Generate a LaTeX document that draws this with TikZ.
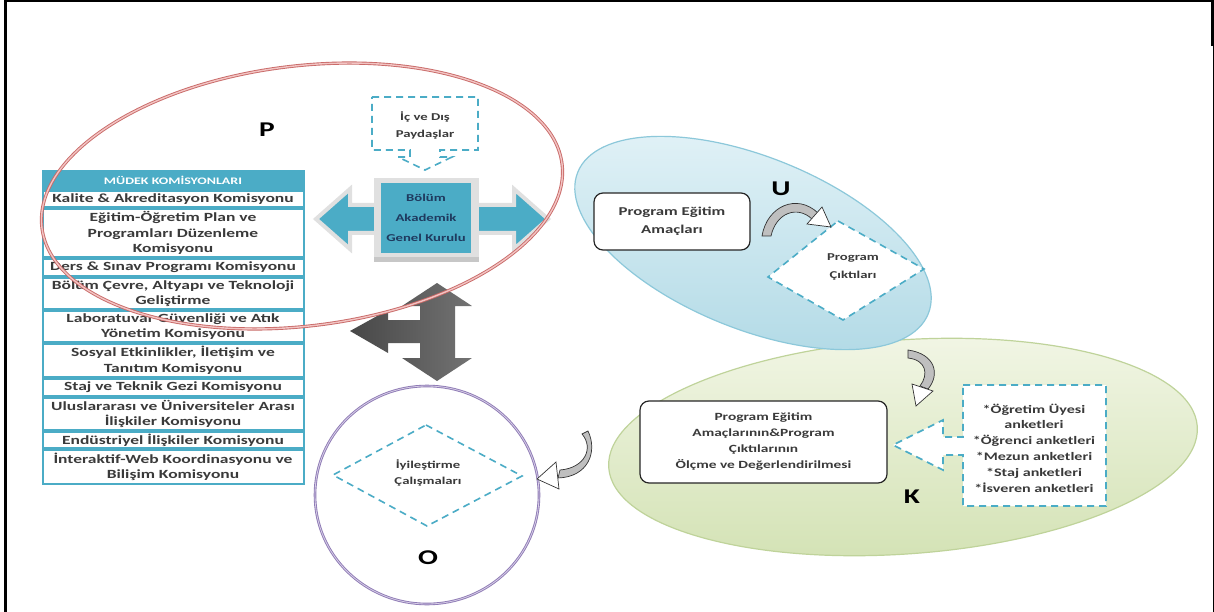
\documentclass[tikz,border=0pt]{standalone}
\usepackage{fontspec}
\newfontfamily\cf{Carlito}[FakeStretch=1.4]
\usetikzlibrary{positioning,calc}
\definecolor{teal1}{HTML}{4BACC6}
\definecolor{txtd}{HTML}{3A3A3A}
\definecolor{navy}{HTML}{1F3A5F}
\definecolor{redl}{HTML}{C0504D}
\definecolor{redp}{HTML}{F2C4C3}
\definecolor{bluef1}{HTML}{E2F2F7}
\definecolor{bluef2}{HTML}{B2DAE6}
\definecolor{bluebd}{HTML}{8CC8DA}
\definecolor{greenf1}{HTML}{F2F6E6}
\definecolor{greenf2}{HTML}{D3E2B4}
\definecolor{greenbd}{HTML}{BFD39A}
\definecolor{purp}{HTML}{8E7AB5}
\definecolor{purpl}{HTML}{D6CDE6}
\definecolor{bandg}{HTML}{BFBFBF}
\begin{document}
\begin{tikzpicture}[x=1pt,y=-1pt,
  row/.style={draw=teal1, line width=2pt, fill=white, minimum width=261pt,
    inner xsep=2pt, inner ysep=0pt, align=center, text=txtd,
    font=\cf\bfseries\fontsize{12.5}{15.5}\selectfont},
  dashbox/.style={draw=teal1, line width=1.6pt, dash pattern=on 7pt off 5pt},
  rbox/.style={draw=black!85, line width=1.2pt, rounded corners=9pt, fill=white},
  lbl/.style={font=\cf\bfseries\fontsize{21}{24}\selectfont, text=black},
  band/.style={draw=black!80, line width=0.7pt, fill=bandg},
  headtri/.style={draw=black!80, line width=0.7pt, fill=white}]
\useasboundingbox (0,0) rectangle (1214,612);
\fill[white] (0,0) rectangle (1214,612);
% frame
\draw[line width=2.5pt] (5.25,612) -- (5.25,0);
\draw[line width=2pt] (4,1) -- (1214,1);
\draw[line width=3pt] (1212.5,0) -- (1212.5,46);
\draw[line width=1.2pt] (1213.4,46) -- (1213.4,612);

% ellipses
\shade[top color=greenf1, bottom color=greenf2, rotate around={4:(903,447)}]
  (903,447) ellipse (295pt and 107pt);
\draw[greenbd, line width=1.2pt, rotate around={4:(903,447)}]
  (903,447) ellipse (295pt and 107pt);
\shade[top color=bluef1, bottom color=bluef2, rotate around={-22:(753,243)}]
  (753,243) ellipse (189pt and 86pt);
\draw[bluebd, line width=1.2pt, rotate around={-22:(753,243)}]
  (753,243) ellipse (189pt and 86pt);
\draw[purp, line width=2.6pt, fill=white] (427,495) ellipse (112pt and 109pt);
\draw[purpl, line width=0.8pt] (427,495) ellipse (112pt and 109pt);

% table
\node[row, fill=teal1, text=white, minimum height=18pt,
  font=\cf\bfseries\fontsize{10}{12}\selectfont, anchor=north] (hdr) at (173,170) {MÜDEK KOMİSYONLARI};
\node[row, minimum height=16pt, below=0pt of hdr] (r1) {Kalite \& Akreditasyon Komisyonu};
\node[row, minimum height=48pt, below=0pt of r1] (r2) {Eğitim-Öğretim Plan ve\\Programları Düzenleme\\Komisyonu};
\node[row, minimum height=17pt, below=0pt of r2] (r3) {Ders \& Sınav Programı Komisyonu};
\node[row, minimum height=31pt, below=0pt of r3] (r4) {Bölüm Çevre, Altyapı ve Teknoloji\\Geliştirme};
\node[row, minimum height=31pt, below=0pt of r4] (r5) {Laboratuvar Güvenliği ve Atık\\Yönetim Komisyonu};
\node[row, minimum height=33pt, below=0pt of r5] (r6) {Sosyal Etkinlikler, İletişim ve\\Tanıtım Komisyonu};
\node[row, minimum height=17pt, below=0pt of r6] (r7) {Staj ve Teknik Gezi Komisyonu};
\node[row, minimum height=32pt, below=0pt of r7] (r8) {Uluslararası ve Üniversiteler Arası\\İlişkiler Komisyonu};
\node[row, minimum height=16pt, below=0pt of r8] (r9) {Endüstriyel İlişkiler Komisyonu};
\node[row, minimum height=34pt, below=0pt of r9] (r10) {İnteraktif-Web Koordinasyonu ve\\Bilişim Komisyonu};

% central double arrow
\draw[draw=black!12, line width=4pt, fill=teal1, line join=miter]
  (316,219) -- (350,189) -- (350,205) -- (514,205) -- (514,189) -- (548,219)
  -- (514,249) -- (514,233) -- (350,233) -- (350,249) -- cycle;
\fill[black!12] (374,178) rectangle (479,262);
\fill[black!22] (374,257) rectangle (479,262);
\node[fill=teal1, minimum width=90pt, minimum height=70pt, align=center,
  text=navy, font=\cf\bfseries\fontsize{10.5}{20}\selectfont] (bagk) at (426,218)
  {Bölüm\\Akademik\\Genel Kurulu};

% ic ve dis paydaslar callout
\draw[dashbox, fill=white] (372,97) -- (478,97) -- (478,150) -- (440,150) -- (440,157)
  -- (452,157) -- (425,170) -- (398,157) -- (410,157) -- (410,150) -- (372,150) -- cycle;
\node[align=center, text=txtd, font=\cf\bfseries\fontsize{10.5}{17}\selectfont] (paydas) at (425,125)
  {İç ve Dış\\Paydaşlar};

% gray H arrow
\shade[left color=black!72, middle color=black!18, right color=black!55]
  (437,283) -- (472,306) -- (455,306) -- (455,358) -- (472,358) -- (437,381)
  -- (402,358) -- (420,358) -- (420,343) -- (388,343) -- (388,353) -- (350,331)
  -- (388,310) -- (388,320) -- (420,320) -- (420,306) -- (402,306) -- cycle;

% U region
\node[rbox, minimum width=156pt, minimum height=57pt, align=center, text=txtd,
  font=\cf\bfseries\fontsize{12}{18}\selectfont] (peab) at (672,221.5) {Program Eğitim\\Amaçları};
\node[lbl] (U) at (781,189) {U};
\draw[dashbox, fill=white] (838,221) -- (924,269) -- (843,320) -- (768,277) -- cycle;
\node[align=center, text=txtd, font=\cf\bfseries\fontsize{10.5}{18}\selectfont] (pc) at (853,267)
  {Program\\Çıktıları};
\draw[band] (762,236) .. controls (767,206) and (797,193) .. (818,213)
  -- (812,219) .. controls (797,205) and (776,213) .. (771,236) -- cycle;
\draw[headtri] (822,207) -- (831,227) -- (807,224) -- cycle;

% K region
\node[rbox, minimum width=247pt, minimum height=82pt, align=center, text=txtd,
  font=\cf\bfseries\fontsize{11}{16}\selectfont] (kbox) at (763.5,442)
  {Program Eğitim\\Amaçlarının\&Program\\Çıktılarının\\Ölçme ve Değerlendirilmesi};
\draw[dashbox, fill=white] (963,385) -- (1106,385) -- (1106,506) -- (963,506) -- (963,455)
  -- (943,455) -- (943,470) -- (893,445) -- (943,420) -- (943,437) -- (963,437) -- cycle;
\node[align=center, text=txtd, font=\cf\bfseries\fontsize{11.5}{15.8}\selectfont] (survey) at (1034,448)
  {*Öğretim Üyesi\\anketleri\\*Öğrenci anketleri\\*Mezun anketleri\\*Staj anketleri\\*İsveren anketleri};
\node[lbl] (K) at (912,497) {K};
\draw[band] (908,350) .. controls (936,354) and (940,375) .. (928,389)
  -- (920,386) .. controls (929,374) and (926,360) .. (908,358) -- cycle;
\draw[headtri] (933,391) -- (916,406) -- (912,384) -- cycle;

% O region
\draw[dashbox] (426,425) -- (522,476) -- (427,526) -- (333,475) -- cycle;
\node[align=center, text=txtd, font=\cf\bfseries\fontsize{10.5}{16}\selectfont] (iyil) at (428,473)
  {İyileştirme\\Çalışmaları};
\node[lbl] (O) at (428,558) {O};
\draw[band] (582,434) .. controls (594,448) and (585,468) .. (560,470)
  -- (558,478) .. controls (588,477) and (598,452) .. (588,431) -- cycle;
\draw[headtri] (556,462) -- (537,479) -- (559,489) -- cycle;

% P label and red ellipse on top
\node[lbl] (P) at (267,130) {P};
\draw[redl!85, line width=3.2pt, rotate around={7:(302,196)}] (302,196) ellipse (262pt and 130pt);
\draw[redp, line width=1.4pt, rotate around={7:(302,196)}] (302,196) ellipse (262pt and 130pt);
\end{tikzpicture}
\end{document}
